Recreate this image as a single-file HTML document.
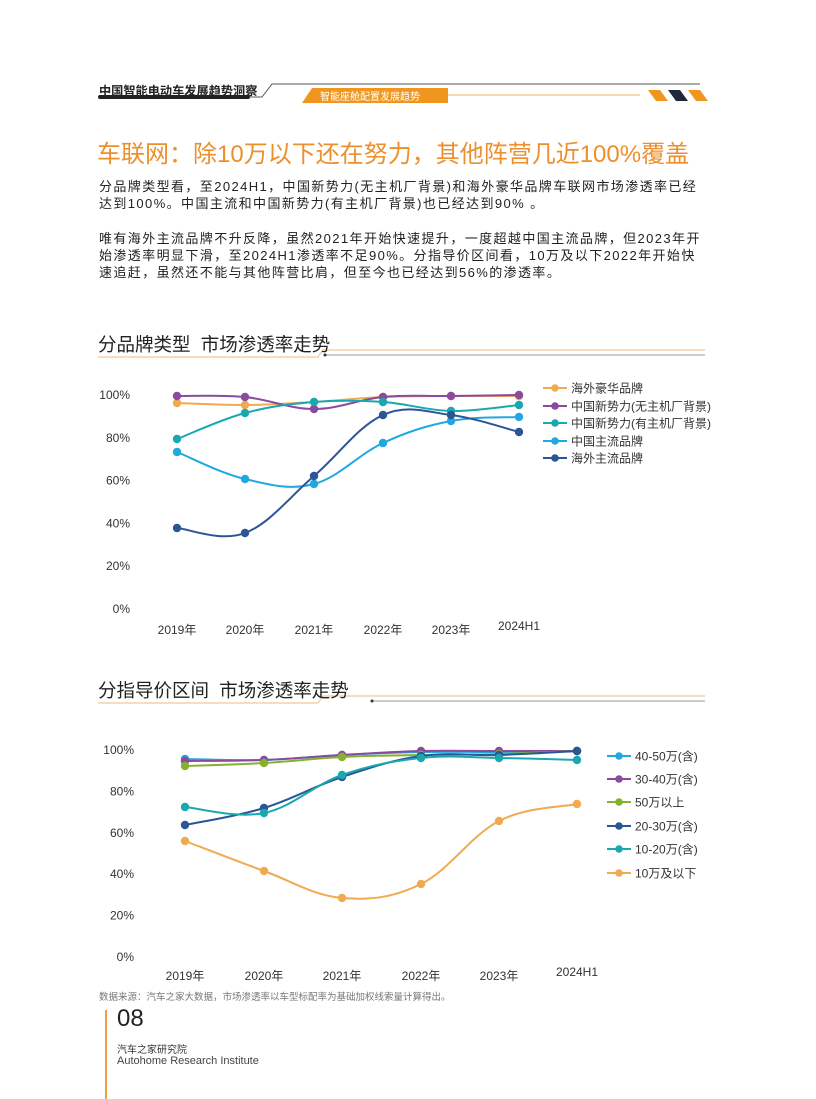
<!DOCTYPE html>
<html><head><meta charset="utf-8">
<style>
html,body{margin:0;padding:0;background:#fff;}
body{width:816px;height:1099px;position:relative;overflow:hidden;font-family:"Liberation Sans","Noto Sans CJK SC",sans-serif;}
.t{position:absolute;white-space:nowrap;}
</style></head>
<body>
<div class="t" style="left:99px;top:81px;font-size:12.2px;font-weight:bold;color:#222;">中国智能电动车发展趋势洞察</div>
<svg style="position:absolute;left:0;top:0" width="816" height="1099">
<rect x="98" y="95" width="152" height="4" rx="2" fill="#222"/>
<polyline points="250,97 262,97 272,84 700,84" fill="none" stroke="#555" stroke-width="1"/>
<polygon points="312,88 448,88 448,103 302,103" fill="#f0961e"/>
<line x1="448" y1="95" x2="640" y2="95" stroke="#f0b060" stroke-width="1"/>
<polygon points="648,90 660,90 668,101 656,101" fill="#f0961e"/>
<polygon points="668,90 680,90 688,101 676,101" fill="#1e2a3a"/>
<polygon points="688,90 700,90 708,101 696,101" fill="#f0961e"/>
<polyline points="98,357 318,357 323,350 705,350" fill="none" stroke="#f2c89a" stroke-width="1.2"/>
<line x1="325" y1="355" x2="705" y2="355" stroke="#999" stroke-width="1"/>
<circle cx="325" cy="355" r="1.5" fill="#333"/>
<polyline points="98,703 318,703 323,696 705,696" fill="none" stroke="#f2c89a" stroke-width="1.2"/>
<line x1="372" y1="701" x2="705" y2="701" stroke="#999" stroke-width="1"/>
<circle cx="372" cy="701" r="1.5" fill="#333"/>
<line x1="106" y1="1010" x2="106" y2="1099" stroke="#f0a040" stroke-width="2"/>
<g id="c1"></g><g id="c2"></g>
</svg>
<div class="t" style="left:320px;top:88px;font-size:10px;color:#fff;">智能座舱配置发展趋势</div>
<div class="t" style="left:97px;top:134px;font-size:24px;color:#ec8f2c;">车联网：除10万以下还在努力，其他阵营几近100%覆盖</div>
<div class="t" style="left:99px;top:178px;font-size:13px;letter-spacing:1.4px;line-height:17px;color:#222;">分品牌类型看，至2024H1，中国新势力(无主机厂背景)和海外豪华品牌车联网市场渗透率已经<br>达到100%。中国主流和中国新势力(有主机厂背景)也已经达到90% 。</div>
<div class="t" style="left:99px;top:230px;font-size:13px;letter-spacing:1.4px;line-height:17px;color:#222;">唯有海外主流品牌不升反降，虽然2021年开始快速提升，一度超越中国主流品牌，但2023年开<br>始渗透率明显下滑，至2024H1渗透率不足90%。分指导价区间看，10万及以下2022年开始快<br>速追赶，虽然还不能与其他阵营比肩，但至今也已经达到56%的渗透率。</div>
<div class="t" style="left:98px;top:331px;font-size:18.5px;color:#222;">分品牌类型&nbsp;&nbsp;市场渗透率走势</div>
<div class="t" style="left:98px;top:677px;font-size:18.5px;color:#222;">分指导价区间&nbsp;&nbsp;市场渗透率走势</div>
<div class="t" style="left:99px;top:989px;font-size:9.5px;color:#777;">数据来源：汽车之家大数据，市场渗透率以车型标配率为基础加权线索量计算得出。</div>
<div class="t" style="left:117px;top:1005px;font-size:24px;color:#222;">08</div>
<div class="t" style="left:117px;top:1041px;font-size:10px;color:#333;">汽车之家研究院</div>
<div class="t" style="left:117px;top:1055px;font-size:11px;color:#444;">Autohome Research Institute</div>
<script>
function path(xs,ys){
 let d="M"+xs[0]+","+ys[0];
 for(let i=0;i<xs.length-1;i++){
  const x0=xs[Math.max(i-1,0)],y0=ys[Math.max(i-1,0)],x1=xs[i],y1=ys[i],x2=xs[i+1],y2=ys[i+1],x3=xs[Math.min(i+2,xs.length-1)],y3=ys[Math.min(i+2,xs.length-1)];
  const t=0.18;
  d+=" C"+(x1+(x2-x0)*t)+","+(y1+(y2-y0)*t)+" "+(x2-(x3-x1)*t)+","+(y2-(y3-y1)*t)+" "+x2+","+y2;
 }
 return d;
}
function chart(id,xs,y100,y0,ylabX,xlabY,xlabs,series,legX,legYs,fs){
 let s="";
 for(let k=0;k<=5;k++){const y=y0-(y0-y100)*k/5;s+=`<text x="${ylabX}" y="${y+4}" text-anchor="end" font-size="12" fill="#333">${k*20}%</text>`;}
 xlabs.forEach((l,i)=>{s+=`<text x="${xs[i]}" y="${xlabY+(i==5?-4:0)}" text-anchor="middle" font-size="12" fill="#333">${l}</text>`;});
 series.forEach(([c,ys])=>{s+=`<path d="${path(xs,ys)}" fill="none" stroke="${c}" stroke-width="2"/>`;ys.forEach((y,i)=>{s+=`<circle cx="${xs[i]}" cy="${y}" r="4.2" fill="${c}"/>`;});});
 series.forEach(([c,ys,n],i)=>{const y=legYs[i];s+=`<line x1="${legX}" y1="${y}" x2="${legX+24}" y2="${y}" stroke="${c}" stroke-width="2"/><circle cx="${legX+12}" cy="${y}" r="3.8" fill="${c}"/><text x="${legX+28}" y="${y+4.5}" font-size="${fs}" fill="#333">${n}</text>`;});
 document.getElementById(id).innerHTML=s;
}
const L=["2019年","2020年","2021年","2022年","2023年","2024H1"];
chart("c1",[177,245,314,383,451,519],395,609,130,634,L,[
 ["#f0aa50",[403,405,402,397,396,396],"海外豪华品牌"],
 ["#8a4a9e",[396,397,409,397,396,395],"中国新势力(无主机厂背景)"],
 ["#1aa8b0",[439,413,402,402,411,405],"中国新势力(有主机厂背景)"],
 ["#22a8e0",[452,479,484,443,421,417],"中国主流品牌"],
 ["#2b5595",[528,533,476,415,415,432],"海外主流品牌"]
],543,[388,406,423,441,458],12);
chart("c2",[185,264,342,421,499,577],750,957,134,980,L,[
 ["#22a8e0",[759,760,755,752,752,751],"40-50万(含)"],
 ["#8a4a9e",[761,760,755,751,751,751],"30-40万(含)"],
 ["#86b030",[766,763,757,755,754,751],"50万以上"],
 ["#2b5595",[825,808,777,756,755,751],"20-30万(含)"],
 ["#1aa8b0",[807,813,775,758,758,760],"10-20万(含)"],
 ["#f0aa50",[841,871,898,884,821,804],"10万及以下"]
],607,[756,779,802,826,849,873],12);
</script>
</body></html>
